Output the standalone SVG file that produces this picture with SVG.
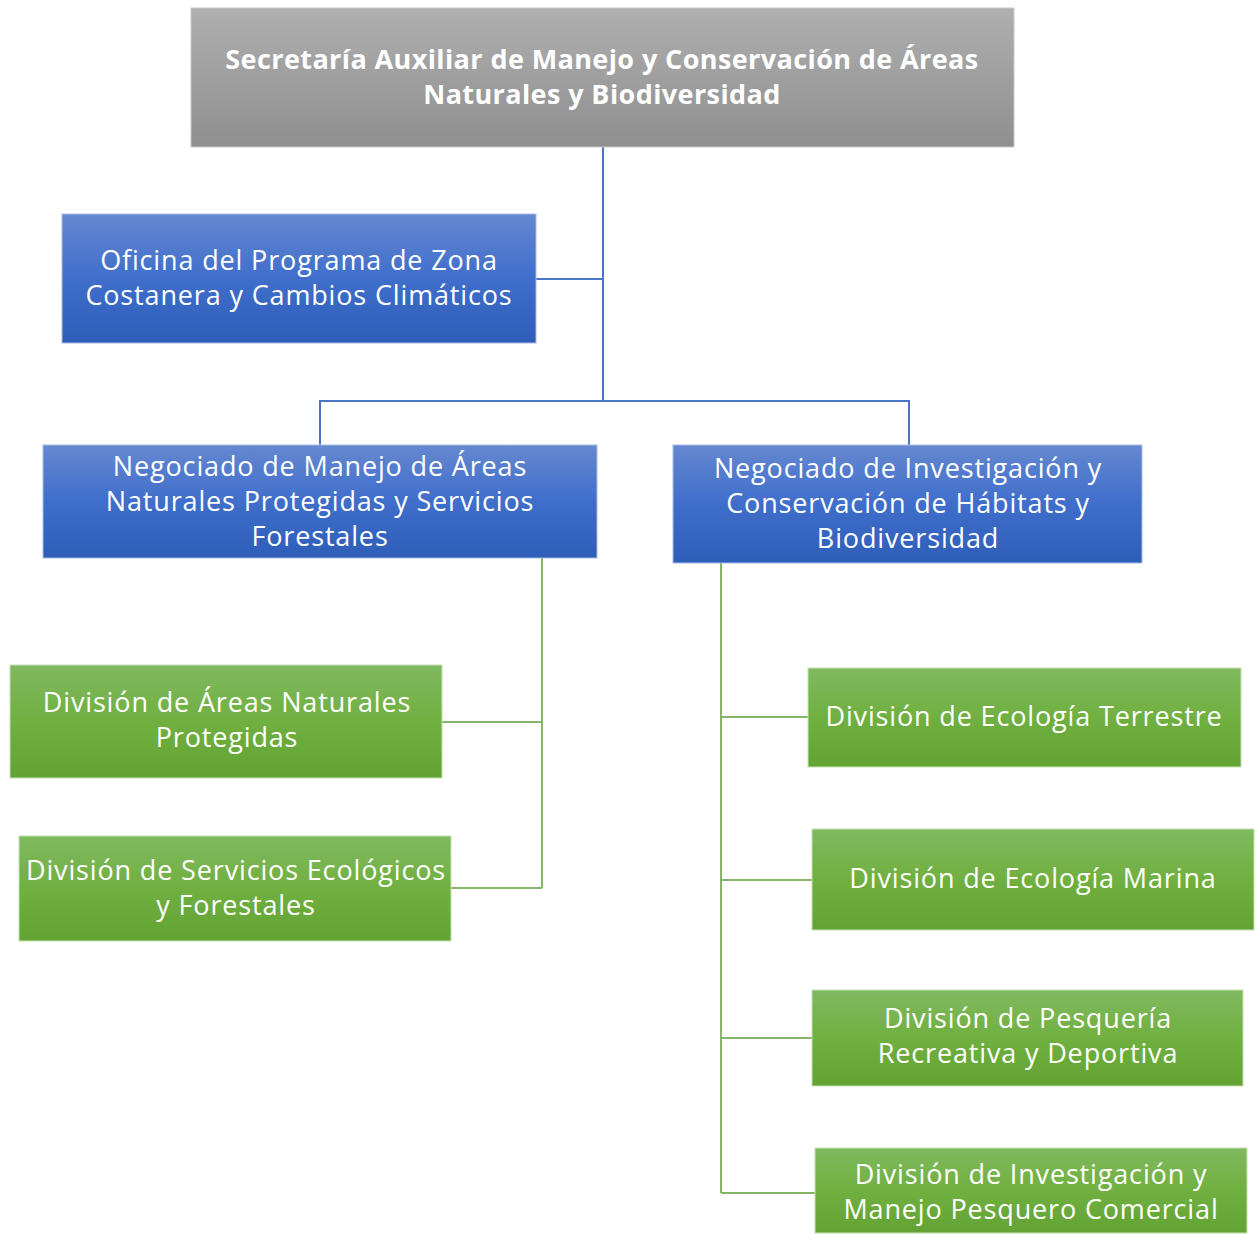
<svg xmlns="http://www.w3.org/2000/svg" width="1258" height="1234" viewBox="0 0 1258 1234">
<defs>
<linearGradient id="gGray" x1="0" y1="0" x2="0" y2="1"><stop offset="0" stop-color="#afafaf"/><stop offset="1" stop-color="#8f8f8f"/></linearGradient>
<linearGradient id="gBlue" x1="0" y1="0" x2="0" y2="1"><stop offset="0" stop-color="#6588d0"/><stop offset="0.5" stop-color="#3f6ecb"/><stop offset="1" stop-color="#2e5eb8"/></linearGradient>
<linearGradient id="gGreen" x1="0" y1="0" x2="0" y2="1"><stop offset="0" stop-color="#80b960"/><stop offset="0.5" stop-color="#70b040"/><stop offset="1" stop-color="#63a333"/></linearGradient>
<style>
.gray{fill:url(#gGray);stroke:#c8c8c8;stroke-width:1}
.blue{fill:url(#gBlue);stroke:#a9bde6;stroke-width:1}
.green{fill:url(#gGreen);stroke:#c5e0b4;stroke-width:1}
text{font-family:"Open Sans","Noto Sans","DejaVu Sans",sans-serif;font-size:27px;letter-spacing:0.85px;fill:#ffffff;text-anchor:middle}
.b{font-weight:bold;letter-spacing:0.4px}
.cb{fill:none;stroke:#4a74c4;stroke-width:2}
.cg{fill:none;stroke:#86b56a;stroke-width:2}
</style>
</defs>
<rect width="1258" height="1234" fill="#ffffff"/>
<g id="connectors">
<path class="cb" d="M603 147 V401 M536 279 H603 M320 445 V401 H909 V445"/>
<path class="cg" d="M542 558 V888 M442 722 H542 M451 888 H542"/>
<path class="cg" d="M721 563 V1193 M721 717 H808 M721 880 H812 M721 1038 H812 M721 1193 H815"/>
</g>
<g id="n-secretaria"><rect class="gray" x="191" y="8" width="823" height="139"/>
<text class="b" x="602" y="69">Secretaría Auxiliar de Manejo y Conservación de Áreas</text>
<text class="b" x="602" y="104">Naturales y Biodiversidad</text></g>
<g id="n-oficina"><rect class="blue" x="62" y="214" width="474" height="129"/>
<text x="299" y="270">Oficina del Programa de Zona</text>
<text x="299" y="305">Costanera y Cambios Climáticos</text></g>
<g id="n-neg-manejo"><rect class="blue" x="43" y="445" width="554" height="113"/>
<text x="320" y="476">Negociado de Manejo de Áreas</text>
<text x="320" y="511">Naturales Protegidas y Servicios</text>
<text x="320" y="546">Forestales</text></g>
<g id="n-neg-investigacion"><rect class="blue" x="673" y="445" width="469" height="118"/>
<text x="908" y="478">Negociado de Investigación y</text>
<text x="908" y="513">Conservación de Hábitats y</text>
<text x="908" y="548">Biodiversidad</text></g>
<g id="n-div-areas"><rect class="green" x="10" y="665" width="432" height="113"/>
<text x="227" y="712">División de Áreas Naturales</text>
<text x="227" y="747">Protegidas</text></g>
<g id="n-div-servicios"><rect class="green" x="19" y="836" width="432" height="105"/>
<text x="236" y="880">División de Servicios Ecológicos</text>
<text x="236" y="915">y Forestales</text></g>
<g id="n-div-terrestre"><rect class="green" x="808" y="668" width="433" height="99"/>
<text x="1024" y="726">División de Ecología Terrestre</text></g>
<g id="n-div-marina"><rect class="green" x="812" y="829" width="442" height="101"/>
<text x="1033" y="888">División de Ecología Marina</text></g>
<g id="n-div-pesqueria"><rect class="green" x="812" y="990" width="431" height="96"/>
<text x="1028" y="1028">División de Pesquería</text>
<text x="1028" y="1063">Recreativa y Deportiva</text></g>
<g id="n-div-comercial"><rect class="green" x="815" y="1148" width="432" height="85"/>
<text x="1031" y="1184">División de Investigación y</text>
<text x="1031" y="1219">Manejo Pesquero Comercial</text></g>
</svg>
